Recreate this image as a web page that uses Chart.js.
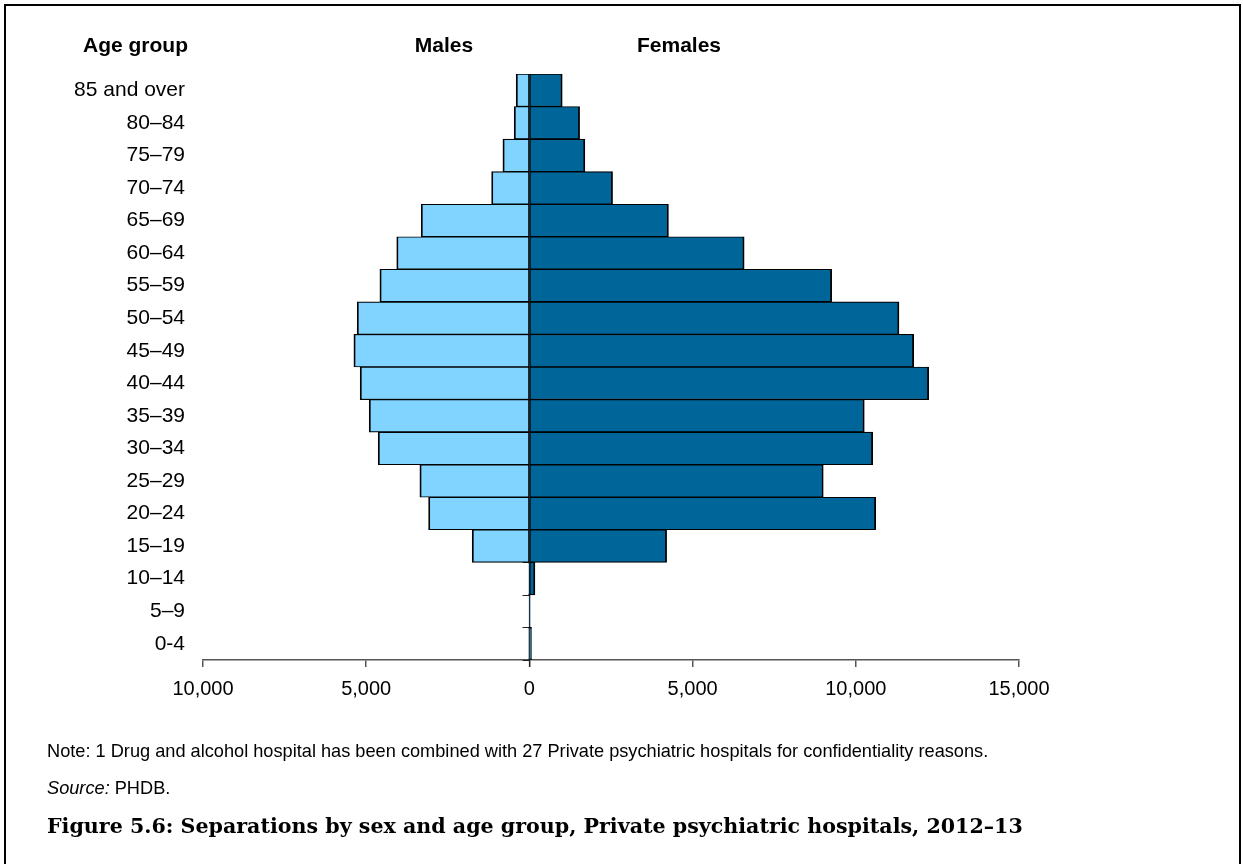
<!DOCTYPE html>
<html>
<head>
<meta charset="utf-8">
<title>Separations by sex and age group</title>
<script src="https://cdn.jsdelivr.net/npm/chart.js@4/dist/chart.umd.min.js"></script>
<style>
  html, body { margin: 0; padding: 0; background: #fff; }
  #wrap { position: relative; width: 1243px; height: 864px; overflow: hidden;
          font-family: "Liberation Sans", Arial, sans-serif; color: #000; }
  #frame { position: absolute; left: 4px; top: 4px; width: 1233px; height: 900px;
           border: 2px solid #000; border-bottom: none; }
  canvas { position: absolute; left: 0; top: 0; }
  .hdr { position: absolute; top: 33px; font-weight: bold; font-size: 21px; line-height: 24px; white-space: nowrap; }
  .note { position: absolute; left: 47px; font-size: 18.2px; line-height: 20px; white-space: nowrap; }
  #title { position: absolute; left: 47px; top: 812px; font-family: "DejaVu Serif", "Liberation Serif", serif;
           font-weight: bold; font-size: 20.6px; line-height: 28px; white-space: nowrap; }
</style>
</head>
<body>
<div id="wrap">
  <div id="frame"></div>
  <canvas id="pyramid" width="1243" height="864"></canvas>
  <div class="hdr" style="left:0;width:188px;text-align:right;">Age group</div>
  <div class="hdr" style="left:344px;width:200px;text-align:center;">Males</div>
  <div class="hdr" style="left:579px;width:200px;text-align:center;">Females</div>
  <div class="note" style="top:741px;">Note: 1 Drug and alcohol hospital has been combined with 27 Private psychiatric hospitals for confidentiality reasons.</div>
  <div class="note" style="top:778px;"><i>Source:</i> PHDB.</div>
  <div id="title">Figure 5.6: Separations by sex and age group, Private psychiatric hospitals, 2012–13</div>
</div>
<script>
// Age groups, oldest at the top
const ageGroups = ['85 and over', '80–84', '75–79', '70–74', '65–69', '60–64', '55–59', '50–54',
                   '45–49', '40–44', '35–39', '30–34', '25–29', '20–24', '15–19', '10–14', '5–9', '0-4'];

// Separations by sex
const males   = [405, 466, 812, 1158, 3316, 4065, 4581, 5277, 5378, 5185, 4909, 4633, 3356, 3089, 1753, 20, 0, 5];
const females = [1006, 1538, 1700, 2548, 4260, 6580, 9260, 11323, 11773, 12232, 10260, 10517, 9003, 10609, 4204, 170, 5, 65];

// Separations axis
const xMin = -10000;
const xMax = 15000;
const xStep = 5000;

const fmt = new Intl.NumberFormat('en-US');

// Vertical axis through zero with tick marks between the age groups
const centreAxis = {
  id: 'centreAxis',
  beforeDatasetsDraw(chart) {
    const { ctx, scales: { x, y }, chartArea } = chart;
    const x0 = Math.round(x.getPixelForValue(0)) + 0.5;
    ctx.save();
    ctx.strokeStyle = '#222';
    ctx.lineWidth = 1.2;
    ctx.beginPath();
    ctx.moveTo(x0, chartArea.top);
    ctx.lineTo(x0, chartArea.bottom + 7);
    for (let i = 0; i <= ageGroups.length; i++) {
      const yy = Math.round(y.getPixelForValue(i - 0.5)) + 0.5;
      ctx.moveTo(x0 - 7, yy);
      ctx.lineTo(x0, yy);
    }
    ctx.stroke();
    ctx.restore();
  }
};

new Chart(document.getElementById('pyramid'), {
  type: 'bar',
  data: {
    labels: ageGroups,
    datasets: [
      {
        label: 'Males',
        data: males.map(v => -v),
        backgroundColor: '#80D4FF',
        borderColor: '#000',
        borderWidth: { top: 1.1, bottom: 1.1, left: 1.8, right: 0.8 },
        borderSkipped: false,
        barPercentage: 1,
        categoryPercentage: 1
      },
      {
        label: 'Females',
        data: females,
        backgroundColor: '#006699',
        borderColor: '#000',
        borderWidth: { top: 1.1, bottom: 1.1, left: 0.8, right: 1.8 },
        borderSkipped: false,
        barPercentage: 1,
        categoryPercentage: 1
      }
    ]
  },
  options: {
    indexAxis: 'y',
    responsive: false,
    animation: false,
    events: [],
    layout: { padding: { top: 74, right: 224, bottom: 154, left: 0 } },
    plugins: { legend: { display: false }, tooltip: { enabled: false } },
    scales: {
      x: {
        stacked: true,
        min: xMin,
        max: xMax,
        ticks: {
          stepSize: xStep,
          color: '#000',
          padding: 10,
          font: { family: '"Liberation Sans", Arial, sans-serif', size: 20 },
          callback: v => fmt.format(Math.abs(v))
        },
        grid: { drawOnChartArea: false, drawTicks: true, tickLength: 7, color: '#555', lineWidth: 1.5 },
        border: { display: true, color: '#555', width: 1.5 },
        afterFit: s => { s.height = 50; }
      },
      y: {
        stacked: true,
        ticks: {
          color: '#000',
          padding: 18,
          font: { family: '"Liberation Sans", Arial, sans-serif', size: 21 }
        },
        grid: { display: false, drawTicks: false },
        border: { display: false },
        afterFit: s => { s.width = 203; }
      }
    }
  },
  plugins: [centreAxis]
});
</script>
</body>
</html>
